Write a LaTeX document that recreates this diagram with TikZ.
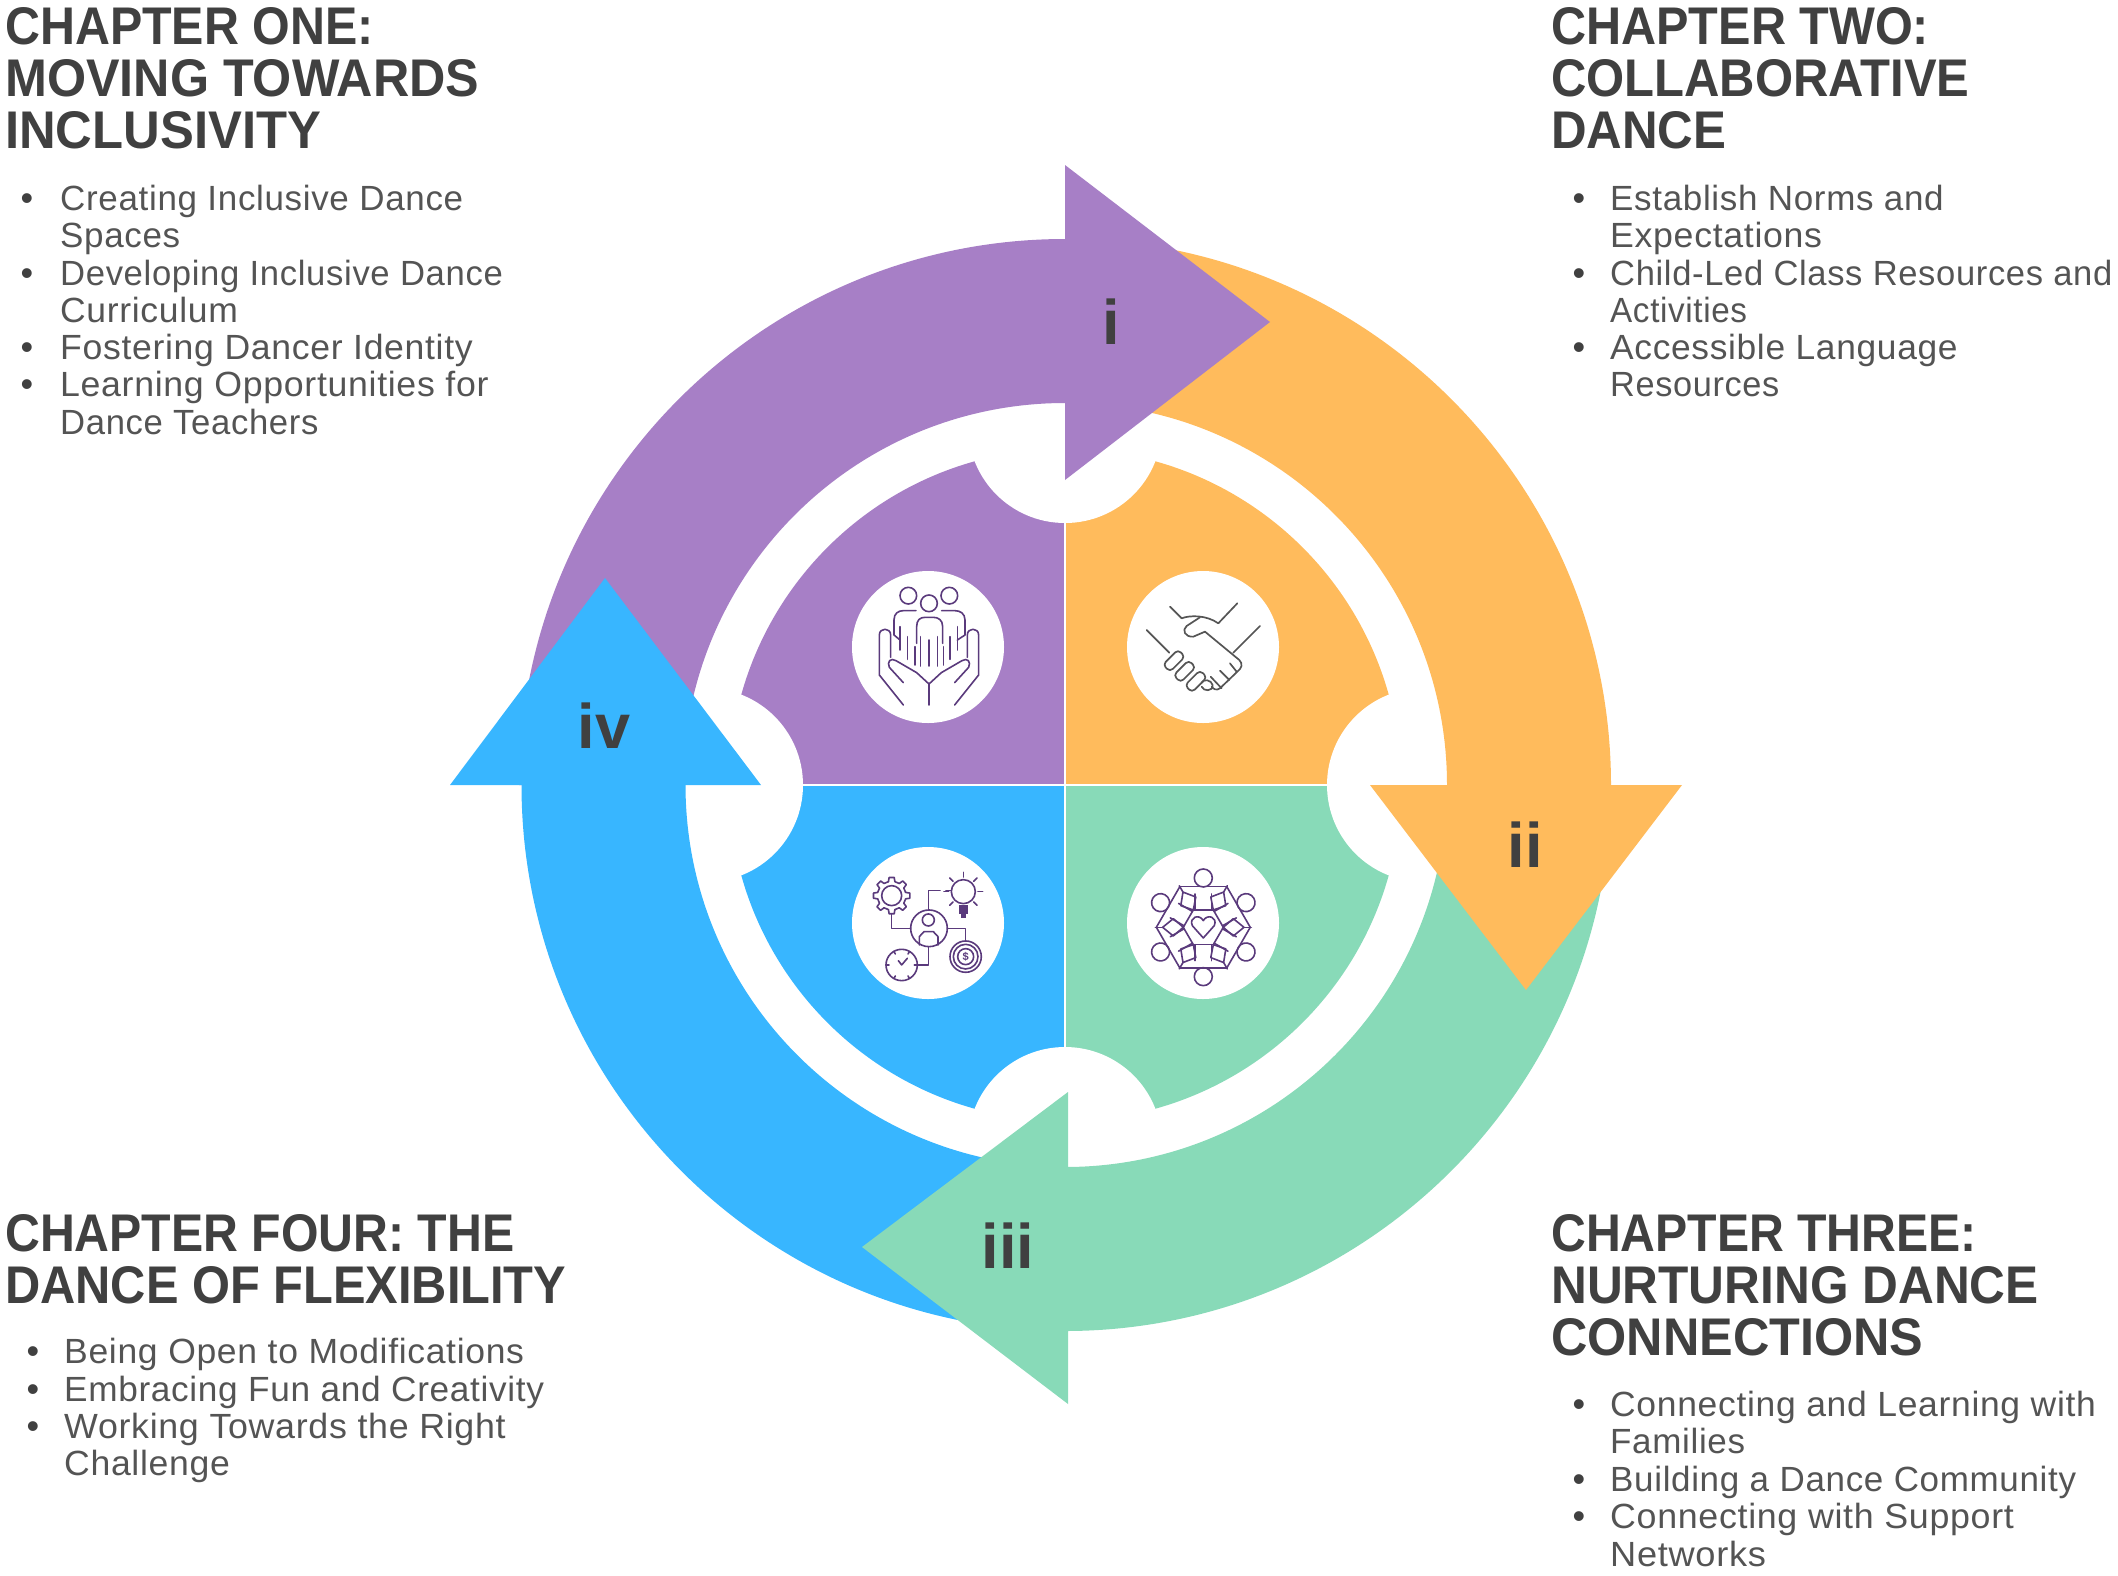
\documentclass[tikz,border=0pt]{standalone}
\usepackage{fontspec}
\usepackage{graphicx}
\setmainfont{Liberation Sans}
\newfontfamily\headfont[FakeStretch=0.93]{Liberation Sans Bold}
\newfontfamily\bodyfont[LetterSpace=1.9]{Liberation Sans}
\newcommand\fitw[2]{\scalebox{#1}[1]{#2}}
\definecolor{cpurple}{HTML}{A77FC6}
\definecolor{corange}{HTML}{FFBB5C}
\definecolor{cgreen}{HTML}{88DAB8}
\definecolor{cblue}{HTML}{38B6FF}
\definecolor{chead}{HTML}{404040}
\definecolor{cbody}{HTML}{545454}
\definecolor{cicon}{HTML}{5A3A7C}
\definecolor{cshake}{HTML}{555555}
\tikzset{
  headline/.style={anchor=base west,inner sep=0pt,text=chead,font=\headfont\fontsize{53}{56}\selectfont},
  bodyline/.style={anchor=base west,inner sep=0pt,yshift=-1.3pt,text=cbody,font=\bodyfont\fontsize{35}{37}\selectfont},
  dotmark/.style={anchor=base,inner sep=0pt,yshift=-1.3pt,text=chead,font=\fontsize{36}{37}\selectfont},
  numeral/.style={inner sep=0pt,text=chead,font=\fontsize{63}{70}\selectfont\bfseries},
  iconline/.style={draw=cicon,line width=1.6pt,line join=round,line cap=round},
  shakeline/.style={draw=cshake,line width=1.7pt,line join=round,line cap=round},
  whitedisc/.style={fill=white},
}
\begin{document}
\begin{tikzpicture}[x=1pt,y=-1pt]
\useasboundingbox (0,0) rectangle (2118,1575);
% inner quadrants
\begin{scope}[shift={(1065,785)}]
  \foreach \col/\rr in {cpurple/180,corange/270,cgreen/0,cblue/90}{
    \fill[\col] (0,0) -- (\rr:336) arc[start angle=\rr,delta angle=90,radius=336] -- cycle;
  }
  \foreach \rr in {0,90,180,270}{
    \fill[white] (\rr:359) circle[radius=97];
    \draw[white,line width=2.4pt] (0,0) -- (\rr:300);
  }
  % ring arcs
  \foreach \col/\rr in {cpurple/0,corange/90,cgreen/180}{
    \begin{scope}[rotate=-\rr]
      \fill[\col] (180:546) arc[start angle=180,end angle=270,radius=546] -- (270:382) arc[start angle=270,end angle=180,radius=382] -- cycle;
    \end{scope}
  }
  \begin{scope}[xshift=2.5pt]
    \fill[cblue] (90:546) arc[start angle=90,end angle=180,radius=546] -- (180:382) arc[start angle=180,end angle=90,radius=382] -- cycle;
  \end{scope}
\end{scope}
% arrow heads
\fill[cpurple] (1065,165) -- (1270,322) -- (1065,480) -- cycle;
\fill[corange] (1370,785) -- (1526,990) -- (1682,785) -- cycle;
\fill[cgreen] (1068,1092) -- (862,1247) -- (1068,1404) -- cycle;
\fill[cblue] (450,785) -- (605,578) -- (761,785) -- cycle;
% numerals
\node[numeral] (n1) at (1111,322) {i};
\node[numeral] (n2) at (1525,845) {ii};
\node[numeral] (n3) at (1008,1246) {iii};
\node[numeral] (n4) at (604,726) {iv};
% icon discs
\fill[whitedisc] (928,647) circle[radius=76];
\fill[whitedisc] (1203,647) circle[radius=76];
\fill[whitedisc] (928,923) circle[radius=76];
\fill[whitedisc] (1203,923) circle[radius=76];
% icons, drawn in a third-of-a-pixel grid
\begin{scope}[shift={(820,540)},x=.3333pt,y=-.3333pt]
  % people in hands
  \draw[iconline] (265,167) circle[radius=25] (388,167) circle[radius=25] (327,190) circle[radius=25];
  \draw[iconline] (240,300) -- (222,285) -- (222,240) .. controls (222,220) and (235,212) .. (250,212) -- (288,212);
  \draw[iconline] (412,300) -- (435,285) -- (435,240) .. controls (435,220) and (420,212) .. (405,212) -- (365,212);
  \draw[iconline] (290,310) -- (290,260) .. controls (290,240) and (300,232) .. (315,232) -- (340,232) .. controls (355,232) and (368,240) .. (368,260) -- (368,310);
  \foreach \xa/\ya/\yb in {240/260/330,262/290/358,285/320/375,302/290/378,327/300/378,352/290/378,370/320/375,390/290/358,412/260/330}{
    \draw[iconline] (\xa,\ya) -- (\xa,\yb);
  }
  \draw[iconline] (250,495) -- (178,405) -- (178,285) .. controls (178,262) and (212,262) .. (212,285) -- (212,352);
  \draw[iconline] (404,495) -- (476,405) -- (476,285) .. controls (476,262) and (442,262) .. (442,285) -- (442,352);
  \draw[iconline] (250,428) -- (208,382) .. controls (200,365) and (212,352) .. (228,362) -- (290,398) -- (327,432) -- (364,398) -- (426,362) .. controls (442,352) and (454,365) .. (446,382) -- (404,428);
  \draw[iconline] (327,432) -- (327,495);
  % handshake
  \draw[shakeline] (980,270) -- (1048,338) (1320,258) -- (1240,338) (1050,200) -- (1085,235) (1252,190) -- (1195,250);
  \draw[shakeline] (1085,235) .. controls (1110,225) and (1160,225) .. (1195,250);
  \draw[shakeline] (1140,232) -- (1100,258) .. controls (1085,270) and (1095,292) .. (1120,290) -- (1155,275) -- (1258,360) .. controls (1270,372) and (1265,385) .. (1252,395) -- (1200,445) .. controls (1190,452) and (1180,448) .. (1175,440);
  \foreach \px/\py in {1062/362,1094/394,1128/424}{
    \draw[shakeline,rounded corners=4pt,rotate around={45:(\px,\py)}] (\px-32,\py-15) rectangle (\px+32,\py+15);
  }
  \draw[shakeline] (1145,428) .. controls (1150,415) and (1175,420) .. (1178,435) .. controls (1180,455) and (1150,455) .. (1145,440);
  \draw[shakeline] (1230,370) -- (1250,395) (1200,392) -- (1228,420) (1172,410) -- (1205,445);
  % network of ideas
  \begin{scope}[shift={(215,1067)}]
    \draw[iconline] (0,0) circle[radius=30];
    \foreach \a in {0,45,...,315}{
      \draw[iconline] (\a-13:43) -- (\a-8:55) -- (\a+8:55) -- (\a+13:43) -- (\a+32:43);
    }
  \end{scope}
  \draw[iconline] (215,1122) -- (215,1165) -- (272,1165);
  \draw[iconline] (327,1165) circle[radius=55];
  \draw[iconline] (325,1140) circle[radius=18];
  \draw[iconline] (298,1215) -- (298,1190) -- (312,1175) -- (340,1175) -- (354,1190) -- (354,1215);
  \draw[iconline] (325,1110) -- (325,1052) -- (360,1052) (378,1052) -- (392,1052);
  \draw[iconline] (382,1165) -- (437,1165) -- (437,1203);
  \draw[iconline] (325,1220) -- (325,1275) -- (293,1275);
  \draw[iconline] (430,1055) circle[radius=36];
  \foreach \a in {-135,-90,-45,0,45,135,180}{
    \draw[iconline] (430,1055) ++(\a:44) -- ++(\a:14);
  }
  \fill[cicon] (416,1095) rectangle (444,1122);
  \fill[cicon] (422,1122) rectangle (438,1133);
  \draw[iconline] (245,1275) circle[radius=47];
  \draw[iconline] (245,1275) -- (262,1255) (245,1275) -- (235,1262);
  \foreach \a in {0,60,...,300}{
    \draw[iconline] (245,1275) ++(\a:38) -- ++(\a:9);
  }
  \draw[iconline] (437,1250) circle[radius=47] (437,1250) circle[radius=37] (437,1250) circle[radius=24];
  \node[inner sep=0pt,text=cicon,font=\fontsize{11}{12}\selectfont\bfseries] (dollar) at (437,1250) {\$};
  % circle of people
  \begin{scope}[shift={(1150,1162)}]
    \foreach \a in {0,60,...,300}{
      \begin{scope}[rotate=\a]
        \draw[iconline] (0,-148) circle[radius=27];
        \draw[iconline] (-70,-122) -- (70,-122);
        \draw[iconline] (-25,-100) -- (-25,-52) (25,-100) -- (25,-52);
        \draw[iconline] (-31,-52) -- (31,-52);
      \end{scope}
      \begin{scope}[rotate=\a+30]
        \draw[iconline] (0,-60) -- (-26,-90) -- (0,-122) -- (26,-90) -- cycle;
        \draw[iconline] (0,-122) -- (0,-144);
      \end{scope}
    }
    \draw[iconline] (0,32) -- (-33,-5) .. controls (-44,-30) and (-12,-42) .. (0,-20) .. controls (12,-42) and (44,-30) .. (33,-5) -- cycle;
  \end{scope}
\end{scope}
% chapter one
\node[headline] (a1) at (5,44) {\fitw{.982}{CHAPTER ONE:}};
\node[headline] (a2) at (5,96) {\fitw{1.02}{MOVING TOWARDS}};
\node[headline] (a3) at (5,148) {\fitw{1.03}{INCLUSIVITY}};
\node[dotmark] (ad1) at (27,209) {•};
\node[bodyline] (ab1) at (60,209) {Creating Inclusive Dance};
\node[bodyline] (ab2) at (60,246) {Spaces};
\node[dotmark] (ad2) at (27,284) {•};
\node[bodyline] (ab3) at (60,284) {\fitw{.99}{Developing Inclusive Dance}};
\node[bodyline] (ab4) at (60,321) {\fitw{1.015}{Curriculum}};
\node[dotmark] (ad3) at (27,358) {•};
\node[bodyline] (ab5) at (60,358) {\fitw{1.017}{Fostering Dancer Identity}};
\node[dotmark] (ad4) at (27,395) {•};
\node[bodyline] (ab6) at (60,395) {\fitw{1.02}{Learning Opportunities for}};
\node[bodyline] (ab7) at (60,433) {\fitw{.99}{Dance Teachers}};
% chapter two
\node[headline] (b1) at (1551,44) {\fitw{.986}{CHAPTER TWO:}};
\node[headline] (b2) at (1551,96) {\fitw{.994}{COLLABORATIVE}};
\node[headline] (b3) at (1551,148) {DANCE};
\node[dotmark] (bd1) at (1579,209) {•};
\node[bodyline] (bb1) at (1610,209) {Establish Norms and};
\node[bodyline] (bb2) at (1610,246) {\fitw{1.02}{Expectations}};
\node[dotmark] (bd2) at (1579,284) {•};
\node[bodyline] (bb3) at (1610,284) {\fitw{.987}{Child-Led Class Resources and}};
\node[bodyline] (bb4) at (1610,321) {\fitw{.95}{Activities}};
\node[dotmark] (bd3) at (1579,358) {•};
\node[bodyline] (bb5) at (1610,358) {\fitw{1.01}{Accessible Language}};
\node[bodyline] (bb6) at (1610,395) {\fitw{.98}{Resources}};
% chapter three
\node[headline] (c1) at (1551,1251) {\fitw{.978}{CHAPTER THREE:}};
\node[headline] (c2) at (1551,1303) {\fitw{1.006}{NURTURING DANCE}};
\node[headline] (c3) at (1551,1355) {\fitw{1.022}{CONNECTIONS}};
\node[dotmark] (cd1) at (1579,1415.5) {•};
\node[bodyline] (cb1) at (1610,1415.5) {\fitw{1.014}{Connecting and Learning with}};
\node[bodyline] (cb2) at (1610,1452.5) {Families};
\node[dotmark] (cd2) at (1579,1490) {•};
\node[bodyline] (cb3) at (1610,1490) {Building a Dance Community};
\node[dotmark] (cd3) at (1579,1527.5) {•};
\node[bodyline] (cb4) at (1610,1527.5) {\fitw{1.023}{Connecting with Support}};
\node[bodyline] (cb5) at (1610,1565) {\fitw{1.035}{Networks}};
% chapter four
\node[headline] (d1) at (5,1251) {\fitw{.979}{CHAPTER FOUR: THE}};
\node[headline] (d2) at (5,1303) {\fitw{.99}{DANCE OF FLEXIBILITY}};
\node[dotmark] (dd1) at (33,1362.5) {•};
\node[bodyline] (db1) at (64,1362.5) {\fitw{1.015}{Being Open to Modifications}};
\node[dotmark] (dd2) at (33,1400) {•};
\node[bodyline] (db2) at (64,1400) {\fitw{1.006}{Embracing Fun and Creativity}};
\node[dotmark] (dd3) at (33,1437) {•};
\node[bodyline] (db3) at (64,1437) {\fitw{1.023}{Working Towards the Right}};
\node[bodyline] (db4) at (64,1474) {\fitw{1.017}{Challenge}};
\end{tikzpicture}
\end{document}
